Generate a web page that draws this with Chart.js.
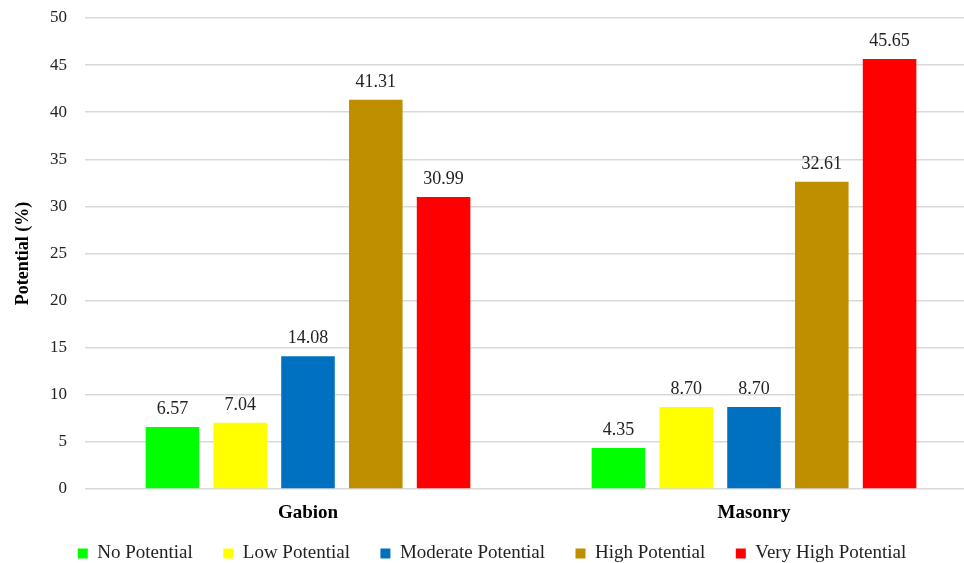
<!DOCTYPE html>
<html>
<head>
<meta charset="utf-8">
<script src="https://cdn.jsdelivr.net/npm/chart.js@4/dist/chart.umd.min.js"></script>
<style>
  html, body { margin: 0; padding: 0; background: #fff; }
  #wrap { width: 964px; height: 563px; }
</style>
</head>
<body>
<div id="wrap"><canvas id="chart" width="964" height="563"></canvas></div>
<script>
const categories = ['Gabion', 'Masonry'];
const seriesNames = ['No Potential', 'Low Potential', 'Moderate Potential', 'High Potential', 'Very High Potential'];
const noPotential = [6.57, 4.35];
const lowPotential = [7.04, 8.70];
const moderatePotential = [14.08, 8.70];
const highPotential = [41.31, 32.61];
const veryHighPotential = [30.99, 45.65];
const seriesColors = ['#00FF00', '#FFFF00', '#0070C0', '#BF8F00', '#FF0000'];
const yTicks = [0, 5, 10, 15, 20, 25, 30, 35, 40, 45, 50];

const font = 'Liberation Serif, Times New Roman, serif';

// draws the value above each bar
const valueLabels = {
  id: 'valueLabels',
  afterDatasetsDraw(chart) {
    const ctx = chart.ctx;
    ctx.save();
    ctx.font = '18px ' + font;
    ctx.fillStyle = '#222';
    ctx.textAlign = 'center';
    ctx.textBaseline = 'alphabetic';
    chart.data.datasets.forEach((ds, i) => {
      chart.getDatasetMeta(i).data.forEach((bar, j) => {
        ctx.fillText(ds.data[j].toFixed(2), bar.x, bar.y - 13);
      });
    });
    ctx.restore();
  }
};

// the original plot area runs past the right edge of the picture,
// and its legend sits a little lower / further right
const layoutTweaks = {
  id: 'layoutTweaks',
  afterLayout(chart) {
    const extra = 13;
    const x = chart.scales.x;
    x.right += extra;
    x.width += extra;
    x.configure();
    chart.chartArea.right += extra;
    chart.chartArea.width += extra;

    const lg = chart.legend;
    lg.top += 10; lg.bottom += 10;
    lg.left += 10; lg.right += 10;
  }
};

const allSeries = [noPotential, lowPotential, moderatePotential, highPotential, veryHighPotential];

new Chart(document.getElementById('chart'), {
  type: 'bar',
  data: {
    labels: categories,
    datasets: allSeries.map((values, i) => ({
      label: seriesNames[i],
      data: values,
      backgroundColor: seriesColors[i],
      categoryPercentage: 0.76,
      barPercentage: 0.79
    }))
  },
  options: {
    responsive: false,
    animation: false,
    layout: { padding: { top: 18, right: 0, left: 0, bottom: 0 } },
    scales: {
      x: {
        grid: { display: false },
        border: { display: false },
        afterFit: (scale) => { scale.height = 43; },
        ticks: { color: '#000', font: { family: font, size: 19, weight: 'bold' }, padding: 5 }
      },
      y: {
        min: 0,
        max: 50,
        afterBuildTicks: (scale) => { scale.ticks = yTicks.map(v => ({ value: v })); },
        afterFit: (scale) => {
          scale.width = 85;
          scale.paddingTop = 0;
          scale.paddingBottom = 0;
        },
        grid: { color: '#d9d9d9', lineWidth: 1.5, drawTicks: false },
        border: { display: false },
        ticks: { color: '#222', font: { family: font, size: 17 }, padding: 18 },
        title: {
          display: true,
          text: 'Potential (%)',
          color: '#000',
          font: { family: font, size: 18, weight: 'bold' },
          padding: { top: 13, bottom: 0 }
        }
      }
    },
    plugins: {
      legend: {
        position: 'bottom',
        labels: {
          color: '#222',
          font: { family: font, size: 19 },
          boxWidth: 10,
          boxHeight: 10,
          padding: 2,
          // trailing spaces give the wide gaps between legend entries
          generateLabels: (chart) => Chart.defaults.plugins.legend.labels.generateLabels(chart).map((item, i, arr) => {
            item.text = i < arr.length - 1 ? item.text + '      ' : item.text;
            return item;
          })
        }
      },
      tooltip: { enabled: false }
    }
  },
  plugins: [valueLabels, layoutTweaks]
});
</script>
</body>
</html>
